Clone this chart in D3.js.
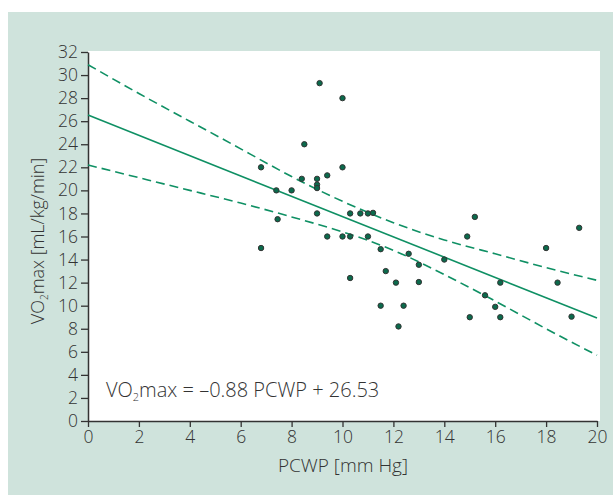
<!DOCTYPE html>
<html>
<head>
<meta charset="utf-8">
<script src="https://cdn.jsdelivr.net/npm/d3@7"></script>
<style>
  body { margin: 0; background: #fff; }
  svg text { font-family: "Open Sans", "Noto Sans", sans-serif; font-weight: 300; fill: #333; }
</style>
</head>
<body>
<svg id="chart" width="613" height="495"></svg>
<script>
// PCWP (mm Hg) vs VO2max (mL/kg/min)
var pcwp = [9.1, 10.0, 8.5, 6.8, 10.0, 9.4, 8.4, 9.0, 9.0, 9.0, 7.4, 8.0,
            9.0, 10.3, 10.7, 11.0, 11.2, 7.45, 9.4, 10.0, 10.3, 11.0, 6.8, 10.3,
            15.2, 14.9, 11.5, 12.6, 14.0, 13.0, 11.7, 12.1, 13.0, 11.5, 12.4, 15.0,
            12.2, 19.3, 18.0, 16.2, 18.45, 15.6, 16.0, 16.2, 19.0];
var vo2 = [29.3, 28.0, 24.0, 22.0, 22.0, 21.3, 21.0, 21.0, 20.5, 20.2, 20.0, 20.0,
           18.0, 18.0, 18.0, 18.0, 18.05, 17.5, 16.0, 16.0, 16.0, 16.0, 15.0, 12.4,
           17.7, 16.0, 14.9, 14.5, 14.0, 13.55, 13.0, 12.0, 12.05, 10.0, 10.0, 9.0,
           8.2, 16.75, 15.0, 12.0, 12.0, 10.9, 9.9, 9.0, 9.05];

// regression: VO2max = slope * PCWP + intercept
var slope = -0.88;
var intercept = 26.53;

// confidence band
var bandX = [0, 2, 4, 6, 8, 10, 12, 14, 16, 18, 20];
var bandUpper = [30.9, 28.4, 26.0, 23.6, 21.2, 19.05, 17.2, 15.7, 14.5, 13.3, 12.2];
var bandLower = [22.2, 21.1, 20.0, 18.9, 17.7, 16.4, 14.8, 12.7, 10.4, 8.0, 5.7];

var xTicks = d3.range(0, 21, 2);
var yTicks = d3.range(0, 33, 2);

var svg = d3.select('#chart');
var green = '#0f9064';
var font = '"Open Sans", "Noto Sans", sans-serif';

svg.append('rect')
    .attr('x', 8).attr('y', 12)
    .attr('width', 605).attr('height', 483)
    .attr('fill', '#cfe3dc');

var x = d3.scaleLinear().domain([0, 20]).range([88, 597]);
var y = d3.scaleLinear().domain([0, 32]).range([421, 52]);

svg.append('rect')
    .attr('x', 88).attr('y', 51)
    .attr('width', 512).attr('height', 370)
    .attr('fill', '#fff');

// axes
var xAxis = svg.append('g')
    .attr('transform', 'translate(0,421)')
    .call(d3.axisBottom(x).tickValues(xTicks).tickSize(6).tickSizeOuter(0));
var yAxis = svg.append('g')
    .attr('transform', 'translate(88,0)')
    .call(d3.axisLeft(y).tickValues(yTicks).tickSize(7).tickSizeOuter(0));

[xAxis, yAxis].forEach(function (a) {
    a.select('.domain').attr('stroke', '#333').attr('stroke-width', 1.5);
    a.selectAll('.tick line').attr('stroke', '#333').attr('stroke-width', 1.3);
    a.selectAll('.tick text')
        .style('font-size', '17.5px')
        .style('font-family', font)
        .style('font-weight', 300)
        .attr('fill', '#333');
});
xAxis.selectAll('.tick text').attr('y', 10);
yAxis.selectAll('.tick text').attr('x', -10);

// band and regression
var bandLine = function (vals) {
    return d3.line()
        .x(function (d, i) { return x(bandX[i]); })
        .y(function (d) { return y(d); })
        .curve(d3.curveNatural)(vals);
};
[bandUpper, bandLower].forEach(function (b) {
    svg.append('path')
        .attr('d', bandLine(b))
        .attr('fill', 'none')
        .attr('stroke', green)
        .attr('stroke-width', 1.6)
        .attr('stroke-dasharray', '9,5');
});

svg.append('line')
    .attr('x1', x(0)).attr('y1', y(intercept))
    .attr('x2', x(20)).attr('y2', y(slope * 20 + intercept))
    .attr('stroke', green)
    .attr('stroke-width', 1.6);

// points
svg.selectAll('.pt')
    .data(pcwp)
    .enter()
    .append('circle')
    .attr('class', 'pt')
    .attr('cx', function (d) { return x(d); })
    .attr('cy', function (d, i) { return y(vo2[i]); })
    .attr('r', 2.7)
    .attr('fill', '#0b6a4c')
    .attr('stroke', '#333')
    .attr('stroke-width', 1);

// equation
var eq = svg.append('text')
    .attr('x', 106).attr('y', 397)
    .style('font-size', '20px');
eq.append('tspan').text('VO');
eq.append('tspan').text('2').attr('dy', 4).style('font-size', '11px');
eq.append('tspan').text('max = \u20130.88 PCWP + 26.53').attr('dy', -4);

// axis titles
svg.append('text')
    .attr('x', 343).attr('y', 472)
    .attr('text-anchor', 'middle')
    .style('font-size', '19px')
    .text('PCWP [mm Hg]');

var yt = svg.append('text')
    .attr('transform', 'translate(44,241) rotate(-90)')
    .attr('text-anchor', 'middle')
    .style('font-size', '18px');
yt.append('tspan').text('VO');
yt.append('tspan').text('2').attr('dy', 4).style('font-size', '10px');
yt.append('tspan').text('max [mL/kg/min]').attr('dy', -4);
</script>
</body>
</html>
